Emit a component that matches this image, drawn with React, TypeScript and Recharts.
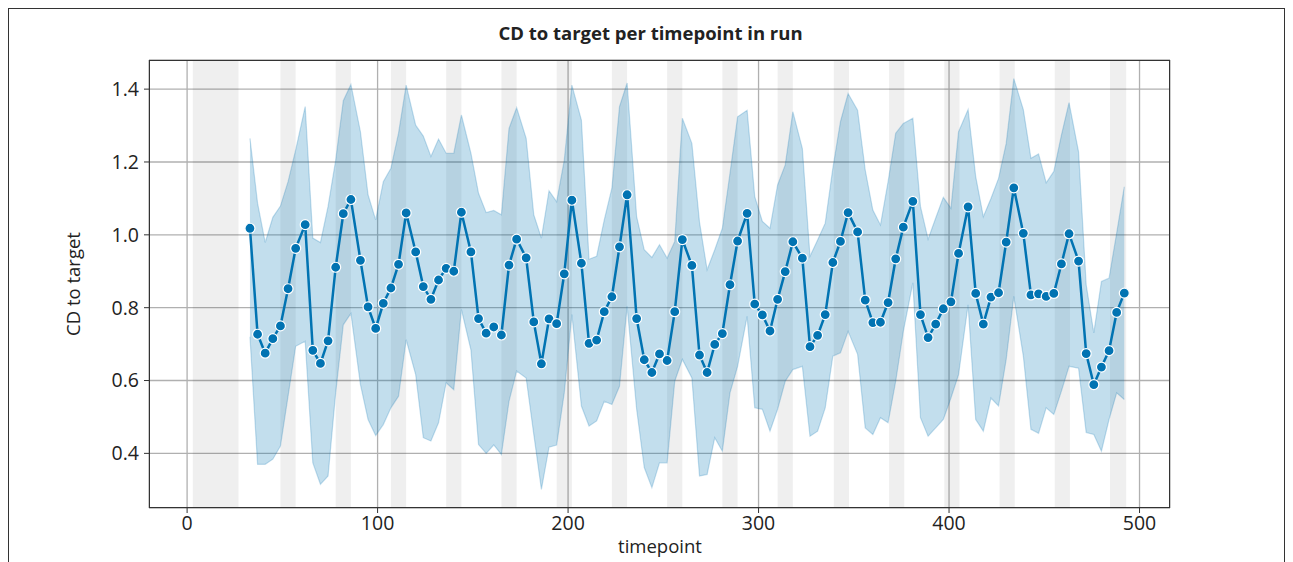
import React from 'react';
import { ComposedChart, Line, Area, XAxis, YAxis, CartesianGrid, ReferenceArea } from 'recharts';

// timepoints of each sample
const timepoints = [
  33, 37, 41, 45, 49, 53, 57, 62, 66, 70,
  74, 78, 82, 86, 91, 95, 99, 103, 107, 111,
  115, 120, 124, 128, 132, 136, 140, 144, 149, 153,
  157, 161, 165, 169, 173, 178, 182, 186, 190, 194,
  198, 202, 207, 211, 215, 219, 223, 227, 231, 236,
  240, 244, 248, 252, 256, 260, 265, 269, 273, 277,
  281, 285, 289, 294, 298, 302, 306, 310, 314, 318,
  323, 327, 331, 335, 339, 343, 347, 352, 356, 360,
  364, 368, 372, 376, 381, 385, 389, 393, 397, 401,
  405, 410, 414, 418, 422, 426, 430, 434, 439, 443,
  447, 451, 455, 459, 463, 468, 472, 476, 480, 484,
  488, 492,
];

const meanCD = [
  1.018, 0.727, 0.675, 0.715, 0.750, 0.852, 0.963, 1.028, 0.683, 0.647,
  0.709, 0.911, 1.058, 1.097, 0.930, 0.802, 0.743, 0.812, 0.854, 0.919,
  1.060, 0.953, 0.858, 0.823, 0.876, 0.908, 0.900, 1.062, 0.953, 0.770,
  0.730, 0.747, 0.725, 0.917, 0.988, 0.937, 0.761, 0.646, 0.769, 0.756,
  0.893, 1.095, 0.922, 0.702, 0.711, 0.789, 0.830, 0.967, 1.110, 0.770,
  0.657, 0.622, 0.673, 0.655, 0.789, 0.987, 0.916, 0.670, 0.622, 0.699,
  0.729, 0.863, 0.983, 1.059, 0.810, 0.780, 0.736, 0.823, 0.899, 0.981,
  0.936, 0.693, 0.724, 0.781, 0.924, 0.982, 1.061, 1.008, 0.821, 0.759,
  0.760, 0.814, 0.934, 1.021, 1.092, 0.781, 0.718, 0.755, 0.797, 0.816,
  0.949, 1.077, 0.839, 0.755, 0.829, 0.841, 0.980, 1.129, 1.004, 0.835,
  0.838, 0.831, 0.839, 0.920, 1.003, 0.928, 0.674, 0.589, 0.637, 0.682,
  0.787, 0.840,
];

const lowerCI = [
  0.720, 0.370, 0.370, 0.384, 0.420, 0.557, 0.694, 0.708, 0.374, 0.315,
  0.338, 0.566, 0.753, 0.784, 0.589, 0.493, 0.449, 0.479, 0.525, 0.557,
  0.712, 0.616, 0.443, 0.434, 0.484, 0.594, 0.575, 0.795, 0.684, 0.424,
  0.400, 0.423, 0.397, 0.543, 0.626, 0.607, 0.452, 0.301, 0.417, 0.423,
  0.566, 0.781, 0.530, 0.475, 0.489, 0.543, 0.534, 0.584, 0.804, 0.521,
  0.361, 0.306, 0.374, 0.374, 0.598, 0.658, 0.607, 0.338, 0.342, 0.443,
  0.406, 0.566, 0.639, 0.776, 0.525, 0.521, 0.461, 0.521, 0.598, 0.630,
  0.639, 0.447, 0.461, 0.525, 0.667, 0.676, 0.735, 0.672, 0.470, 0.452,
  0.498, 0.484, 0.598, 0.735, 0.868, 0.498, 0.447, 0.470, 0.493, 0.552,
  0.616, 0.808, 0.493, 0.461, 0.552, 0.530, 0.658, 0.831, 0.667, 0.466,
  0.455, 0.525, 0.507, 0.571, 0.639, 0.634, 0.457, 0.452, 0.406, 0.493,
  0.566, 0.548,
];

const upperCI = [
  1.265, 1.087, 0.979, 1.048, 1.079, 1.146, 1.233, 1.352, 0.991, 0.979,
  1.078, 1.205, 1.368, 1.413, 1.283, 1.110, 1.041, 1.146, 1.183, 1.279,
  1.411, 1.301, 1.271, 1.215, 1.263, 1.224, 1.224, 1.329, 1.224, 1.114,
  1.061, 1.067, 1.055, 1.292, 1.349, 1.265, 1.055, 0.991, 1.121, 1.091,
  1.205, 1.411, 1.315, 0.933, 0.941, 1.041, 1.128, 1.352, 1.417, 1.050,
  0.959, 0.938, 0.973, 0.936, 0.982, 1.320, 1.251, 1.035, 0.904, 0.959,
  1.018, 1.169, 1.324, 1.342, 1.105, 1.037, 1.018, 1.137, 1.192, 1.338,
  1.237, 0.941, 0.986, 1.032, 1.183, 1.311, 1.388, 1.342, 1.178, 1.068,
  1.027, 1.146, 1.279, 1.306, 1.320, 1.078, 0.988, 1.046, 1.103, 1.073,
  1.283, 1.344, 1.160, 1.050, 1.100, 1.155, 1.251, 1.429, 1.344, 1.210,
  1.222, 1.143, 1.174, 1.274, 1.363, 1.228, 0.863, 0.731, 0.872, 0.881,
  1.005, 1.132,
];

// shaded grey spans
const spanStarts = [3, 49, 78, 107, 136, 165, 194, 223, 252, 281, 310, 339.5, 368.5, 397.5, 426.5, 455.5, 484.5];
const spanEnds = [27, 57, 86, 115, 144, 173, 202, 231, 260, 289, 318, 347.5, 376.5, 405.5, 434.5, 463.5, 493];

const xTicks = [0, 100, 200, 300, 400, 500];
const yTicks = [0.4, 0.6, 0.8, 1.0, 1.2, 1.4];

const FONT = '"Open Sans", "Noto Sans", sans-serif';
const BLUE = '#0173b2';

const data = timepoints.map((t, i) => ({
  t,
  mean: meanCD[i],
  ci: [lowerCI[i], upperCI[i]],
}));

const App: React.FC = () => {
  return (
    <div
      style={{
        position: 'relative',
        width: 1277,
        height: 556,
        border: '1px solid #333',
        boxSizing: 'border-box',
        background: '#fff',
        fontFamily: FONT,
        color: '#222',
      }}
    >
      <style>{'body{overflow:hidden}'}</style>
      <div
        style={{
          position: 'absolute',
          left: 4,
          width: 1275,
          top: 11,
          textAlign: 'center',
          fontWeight: 700,
          fontSize: 18.5,
          lineHeight: '26px',
        }}
      >
        CD to target per timepoint in run
      </div>

      <ComposedChart
        width={1275}
        height={554}
        data={data}
        margin={{ top: 51, right: 114, bottom: 5, left: 0 }}
      >
        <CartesianGrid stroke="#b0b0b0" strokeWidth={1.3} />
        {spanStarts.map((s, i) => (
          <ReferenceArea
            key={`span-${i}`}
            x1={s}
            x2={spanEnds[i]}
            fill="#000"
            fillOpacity={0.062}
            stroke="none"
            ifOverflow="hidden"
          />
        ))}
        <XAxis
          dataKey="t"
          type="number"
          domain={[-20, 516]}
          ticks={xTicks}
          allowDataOverflow
          height={50}
          axisLine={false}
          tickLine={{ stroke: '#333' }}
          tickSize={5}
          tickMargin={3}
          tick={{ fill: '#222', fontSize: 19.5, fontFamily: FONT }}
        />
        <YAxis
          type="number"
          domain={[0.25, 1.48]}
          ticks={yTicks}
          allowDataOverflow
          width={140}
          axisLine={false}
          tickLine={{ stroke: '#333' }}
          tickSize={5}
          tickMargin={5}
          tickFormatter={(v: number) => v.toFixed(1)}
          tick={{ fill: '#222', fontSize: 19.5, fontFamily: FONT }}
        />
        <Area
          type="linear"
          dataKey="ci"
          fill={BLUE}
          fillOpacity={0.24}
          stroke={BLUE}
          strokeOpacity={0.22}
          strokeWidth={1.2}
          isAnimationActive={false}
        />
        <Line
          type="linear"
          dataKey="mean"
          stroke={BLUE}
          strokeWidth={2.5}
          dot={{ r: 5, fill: BLUE, stroke: '#fff', strokeWidth: 1.2 }}
          isAnimationActive={false}
        />
      </ComposedChart>

      {/* axes frame */}
      <div
        style={{
          position: 'absolute',
          left: 140,
          top: 51,
          width: 1021,
          height: 448,
          border: '1.3px solid #333',
          boxSizing: 'border-box',
          pointerEvents: 'none',
        }}
      />

      <div
        style={{
          position: 'absolute',
          left: 64 - 70,
          top: 275 - 13,
          width: 140,
          textAlign: 'center',
          fontSize: 18.5,
          lineHeight: '26px',
          transform: 'rotate(-90deg)',
        }}
      >
        CD to target
      </div>
      <div
        style={{
          position: 'absolute',
          left: 651 - 70,
          top: 537 - 13,
          width: 140,
          textAlign: 'center',
          fontSize: 18.5,
          lineHeight: '26px',
        }}
      >
        timepoint
      </div>
    </div>
  );
};

export default App;
